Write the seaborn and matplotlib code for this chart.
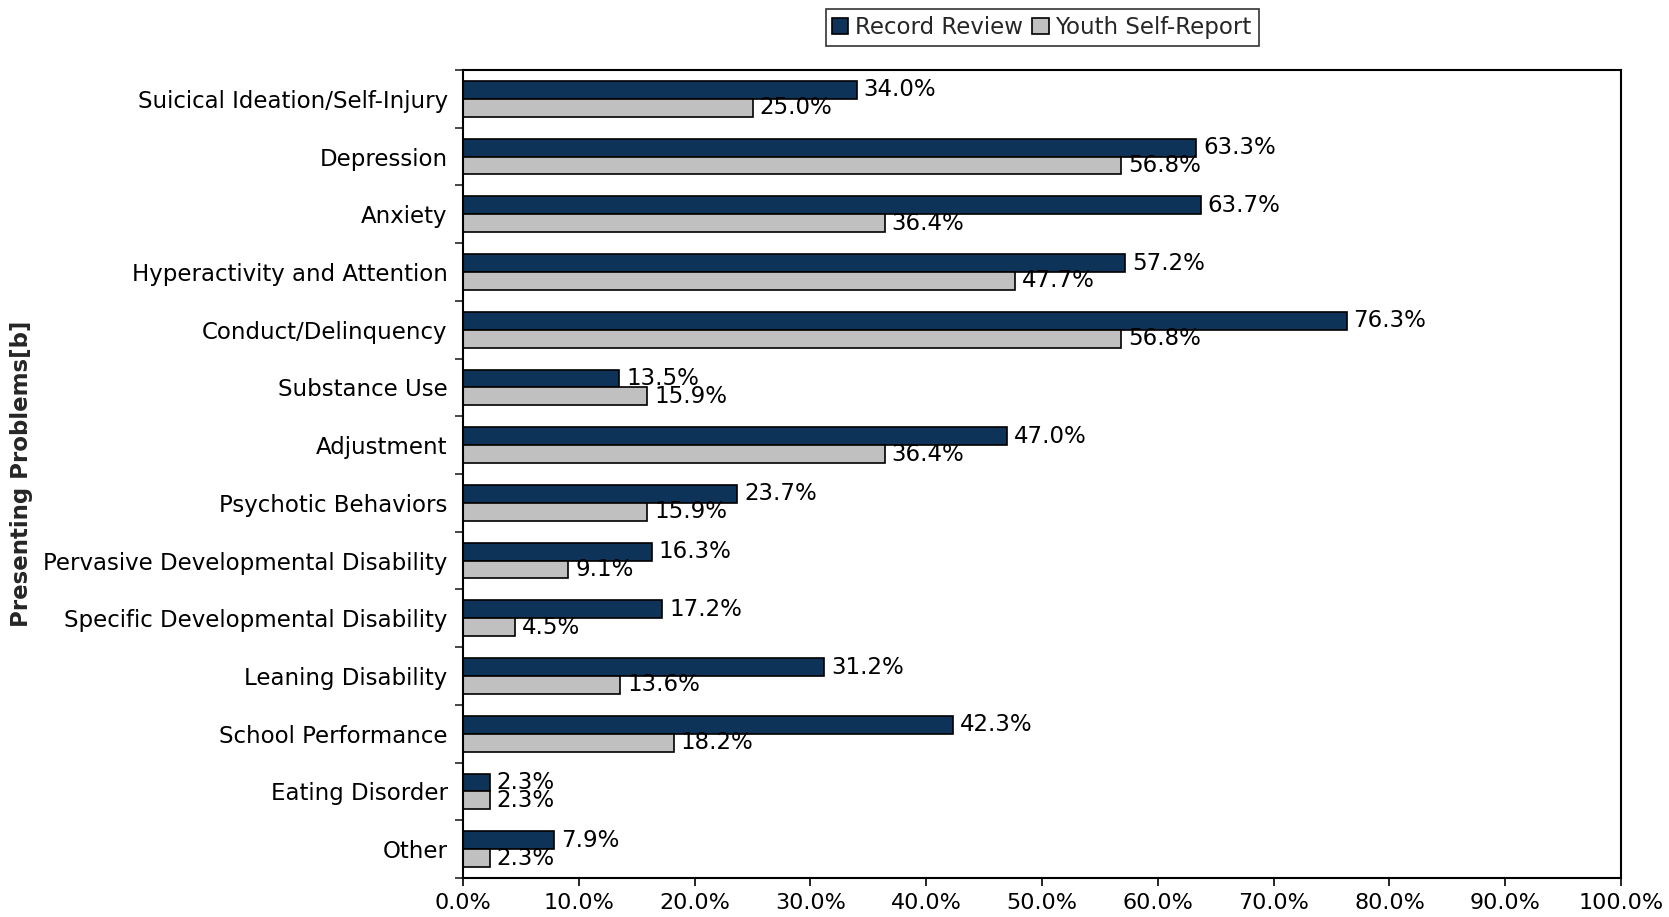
import pandas as pd
import numpy as np
import matplotlib.pyplot as plt
import seaborn as sns
from matplotlib.ticker import FixedLocator, PercentFormatter

# data (percent)
problems = ["Suicical Ideation/Self-Injury", "Depression", "Anxiety",
            "Hyperactivity and Attention", "Conduct/Delinquency", "Substance Use",
            "Adjustment", "Psychotic Behaviors", "Pervasive Developmental Disability",
            "Specific Developmental Disability", "Leaning Disability",
            "School Performance", "Eating Disorder", "Other"]
record_review = [34.0, 63.3, 63.7, 57.2, 76.3, 13.5, 47.0, 23.7, 16.3, 17.2, 31.2, 42.3, 2.3, 7.9]
youth_self = [25.0, 56.8, 36.4, 47.7, 56.8, 15.9, 36.4, 15.9, 9.1, 4.5, 13.6, 18.2, 2.3, 2.3]
series = ["Record Review", "Youth Self-Report"]
x_ticks = list(range(0, 101, 10))

df = pd.DataFrame({
    "problem": problems * 2,
    "source": [series[0]] * len(problems) + [series[1]] * len(problems),
    "pct": record_review + youth_self,
})

sns.set_theme(style="white")
plt.rcParams['font.family'] = ['DejaVu Sans']
FS = 16.5

fig = plt.figure(figsize=(16.69, 9.17), dpi=100)
ax = fig.add_axes([0.2774, 0.0425, 0.6939, 0.8812])

sns.barplot(data=df, y="problem", x="pct", hue="source", order=problems,
            hue_order=series, palette=["#003366", "#C0C0C0"], orient="h",
            width=0.62, edgecolor="black", linewidth=1.2, ax=ax)

for cont in ax.containers:
    ax.bar_label(cont, labels=[f"{v:.1f}%" for v in cont.datavalues],
                 padding=5, fontsize=FS, color="black")

ax.set_xlim(0, 100)
ax.set_ylim(len(problems) - 0.5, -0.5)
ax.xaxis.set_major_locator(FixedLocator(x_ticks))
ax.xaxis.set_major_formatter(PercentFormatter(decimals=1))
ax.tick_params(axis="x", labelsize=16, length=6, width=1.2, direction="out",
               bottom=True, colors="black", pad=4.5)
ax.tick_params(axis="y", which="major", labelsize=FS, length=0, pad=11, colors="black")
ax.yaxis.set_minor_locator(FixedLocator(np.arange(-0.5, len(problems), 1)))
ax.tick_params(axis="y", which="minor", length=6, width=1.2, direction="out", left=True)

for s in ax.spines.values():
    s.set_visible(True)
    s.set_color("black")
    s.set_linewidth(1.5)

ax.set_xlabel("")
ax.set_ylabel("Presenting Problems[b]", fontsize=FS, fontweight="bold")
ax.yaxis.set_label_coords(-0.371, 0.5)

leg = ax.legend(loc="lower center", bbox_to_anchor=(0.5, 1.03), ncol=2,
                fontsize=FS, frameon=True, fancybox=False, edgecolor="black",
                handlelength=0.7, handleheight=0.7, handletextpad=0.3,
                columnspacing=0.4, borderpad=0.3, borderaxespad=0)
leg.get_frame().set_linewidth(1.2)

fig.savefig("out.png", dpi=100)
